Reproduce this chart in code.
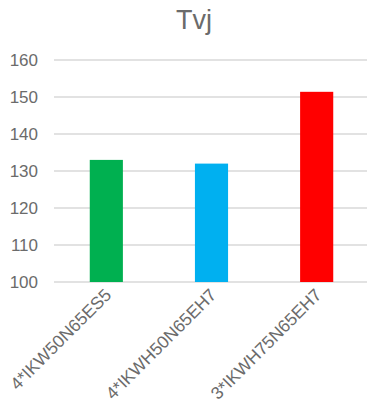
<!DOCTYPE html>
<html>
<head>
<meta charset="utf-8">
<script src="https://cdn.jsdelivr.net/npm/d3@7"></script>
<style>
  body { margin: 0; background: #fff; }
  text { font-family: "Liberation Sans", Arial, sans-serif; fill: #6b6b6b; }
</style>
</head>
<body>
<script>
// Chart data
const categories = ["4*IKW50N65ES5", "4*IKWH50N65EH7", "3*IKWH75N65EH7"];
const values = [133, 132, 151.4];
const colors = ["#00B050", "#00B0F0", "#FF0000"];
const yTicks = [100, 110, 120, 130, 140, 150, 160];

const width = 367;
const height = 416;
const margin = { top: 60, right: 0, bottom: 134, left: 54 };

const svg = d3
  .select("body")
  .append("svg")
  .attr("width", width)
  .attr("height", height);

const x = d3
  .scaleBand()
  .domain(categories)
  .range([margin.left, 369])
  .paddingInner(0.685)
  .paddingOuter(0.34);

const y = d3
  .scaleLinear()
  .domain([100, 160])
  .range([height - margin.bottom, margin.top]);

// Title
svg
  .append("text")
  .attr("x", 194)
  .attr("y", 29)
  .attr("text-anchor", "middle")
  .attr("font-size", 27)
  .text("Tvj");

// Gridlines
svg
  .selectAll("line.grid")
  .data(yTicks)
  .enter()
  .append("line")
  .attr("class", "grid")
  .attr("x1", margin.left)
  .attr("x2", width)
  .attr("y1", (d) => y(d))
  .attr("y2", (d) => y(d))
  .attr("stroke", "#D9D9D9")
  .attr("stroke-width", 1.5);

// Y tick labels
svg
  .selectAll("text.ytick")
  .data(yTicks)
  .enter()
  .append("text")
  .attr("class", "ytick")
  .attr("x", 38)
  .attr("y", (d) => y(d) + 6)
  .attr("text-anchor", "end")
  .attr("font-size", 17)
  .text((d) => d);

// Bars
svg
  .selectAll("rect")
  .data(values)
  .enter()
  .append("rect")
  .attr("x", (d, i) => x(categories[i]))
  .attr("width", x.bandwidth())
  .attr("y", (d) => y(d))
  .attr("height", (d) => y(100) - y(d))
  .attr("fill", (d, i) => colors[i]);

// X labels
svg
  .selectAll("text.xlabel")
  .data(categories)
  .enter()
  .append("text")
  .attr("class", "xlabel")
  .attr("text-anchor", "end")
  .attr("font-size", 17.5)
  .attr("transform", (d) => {
    const cx = x(d) + x.bandwidth() / 2 + 6;
    return "translate(" + cx + "," + (y(100) + 14) + ") rotate(-45)";
  })
  .text((d) => d);
</script>
</body>
</html>
